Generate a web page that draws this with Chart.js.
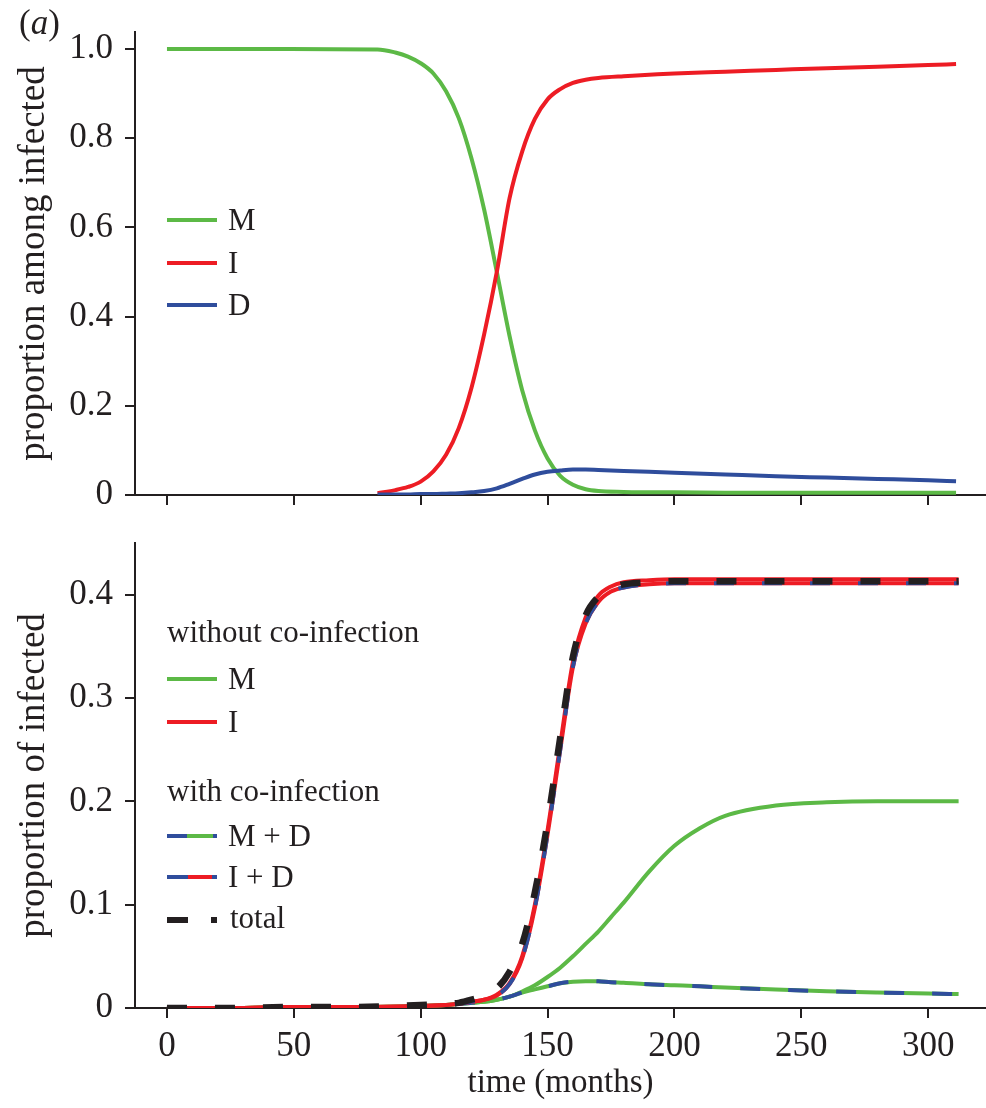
<!DOCTYPE html>
<html>
<head>
<meta charset="utf-8">
<script src="https://cdn.jsdelivr.net/npm/chart.js@4.4.0/dist/chart.umd.min.js"></script>
<style>
  body { margin: 0; background: #fff; }
  #wrap { position: relative; width: 986px; height: 1108px; font-family: "Liberation Serif", "Times New Roman", serif; color: #231f20; }
  .box { position: absolute; left: 0; }
  .lab { position: absolute; font-size: 31px; line-height: 1; white-space: nowrap; }
  .sw { position: absolute; height: 4px; }
</style>
</head>
<body>
<div id="wrap">
  <div class="box" style="top:0"><canvas id="top" width="986" height="530"></canvas></div>
  <div class="box" style="top:530px"><canvas id="bottom" width="986" height="578"></canvas></div>

  <div class="lab" style="left:19px;top:5px;font-size:35px">(<i>a</i>)</div>

  <!-- top legend -->
  <div class="sw" style="left:167px;top:218px;width:50px;background:#5cb946"></div>
  <div class="lab" style="left:228px;top:204px">M</div>
  <div class="sw" style="left:167px;top:261px;width:50px;background:#ed1c24"></div>
  <div class="lab" style="left:228px;top:247px">I</div>
  <div class="sw" style="left:167px;top:303px;width:50px;background:#2f4d9c"></div>
  <div class="lab" style="left:228px;top:289px">D</div>

  <!-- bottom legend -->
  <div class="lab" style="left:167px;top:616px">without co-infection</div>
  <div class="sw" style="left:167px;top:677px;width:50px;background:#5cb946"></div>
  <div class="lab" style="left:228px;top:663px">M</div>
  <div class="sw" style="left:167px;top:720px;width:50px;background:#ed1c24"></div>
  <div class="lab" style="left:228px;top:706px">I</div>
  <div class="lab" style="left:167px;top:775px">with co-infection</div>
  <div class="sw" style="left:167px;top:834px;width:50px;background:linear-gradient(90deg,#2f4d9c 0 40%,#5cb946 40% 92%,#2f4d9c 92%)"></div>
  <div class="lab" style="left:228px;top:820px">M + D</div>
  <div class="sw" style="left:167px;top:875px;width:50px;background:linear-gradient(90deg,#2f4d9c 0 42%,#ed1c24 42% 90%,#2f4d9c 90%)"></div>
  <div class="lab" style="left:228px;top:861px">I + D</div>
  <div class="sw" style="left:167px;top:917px;width:21px;height:6px;background:#231f20"></div>
  <div class="sw" style="left:211px;top:917px;width:6px;height:6px;background:#231f20"></div>
  <div class="lab" style="left:230px;top:902px">total</div>
</div>
<script>
// shared x ticks
var xTicks = [0, 50, 100, 150, 200, 250, 300];

// top panel: proportion among infected
var topMonths = [0, 40, 83, 90, 95, 100, 105, 110, 115, 120, 125, 130, 135, 140, 145, 150, 155, 160, 165, 170, 180, 190, 200, 220, 240, 260, 280, 300, 311];
var propM = [1, 1, 0.999, 0.992, 0.983, 0.968, 0.945, 0.905, 0.845, 0.755, 0.64, 0.5, 0.357, 0.235, 0.145, 0.082, 0.043, 0.023, 0.013, 0.009, 0.007, 0.006, 0.006, 0.005, 0.005, 0.005, 0.005, 0.005, 0.005];
var propI = [null, null, 0.004, 0.011, 0.018, 0.03, 0.053, 0.09, 0.15, 0.24, 0.36, 0.50, 0.665, 0.77, 0.843, 0.887, 0.91, 0.924, 0.931, 0.935, 0.939, 0.942, 0.945, 0.949, 0.953, 0.957, 0.960, 0.964, 0.966];
var propD = [null, null, 0.001, 0.001, 0.001, 0.002, 0.002, 0.003, 0.004, 0.006, 0.009, 0.015, 0.025, 0.036, 0.046, 0.052, 0.055, 0.057, 0.057, 0.056, 0.054, 0.052, 0.050, 0.046, 0.042, 0.039, 0.036, 0.033, 0.031];
var topYTicks = [0, 0.2, 0.4, 0.6, 0.8, 1.0];

// bottom panel: proportion of infected
var months = [0, 25, 50, 75, 100, 110, 115, 120, 125, 130, 135, 140, 145, 150, 155, 160, 165, 170, 175, 180, 190, 200, 210, 220, 240, 260, 280, 300, 312];
var mWithout = [0, 0, 0.001, 0.001, 0.002, 0.003, 0.004, 0.005, 0.006, 0.008, 0.011, 0.016, 0.022, 0.030, 0.039, 0.050, 0.062, 0.074, 0.088, 0.102, 0.132, 0.157, 0.174, 0.186, 0.196, 0.199, 0.200, 0.200, 0.200];
var iWithout = [0, 0, 0.001, 0.001, 0.002, 0.003, 0.004, 0.006, 0.008, 0.013, 0.024, 0.05, 0.10, 0.172, 0.255, 0.335, 0.378, 0.399, 0.408, 0.412, 0.414, 0.415, 0.415, 0.415, 0.415, 0.415, 0.415, 0.415, 0.415];
var mdWith = [0, 0, 0.001, 0.001, 0.002, 0.003, 0.004, 0.005, 0.006, 0.008, 0.011, 0.015, 0.018, 0.021, 0.024, 0.0255, 0.026, 0.0258, 0.025, 0.0245, 0.023, 0.022, 0.021, 0.0198, 0.0178, 0.0162, 0.015, 0.014, 0.0135];
var idWith = [0, 0, 0.001, 0.001, 0.002, 0.003, 0.004, 0.006, 0.008, 0.012, 0.023, 0.048, 0.097, 0.168, 0.25, 0.33, 0.372, 0.393, 0.403, 0.407, 0.410, 0.411, 0.411, 0.411, 0.411, 0.411, 0.411, 0.411, 0.411];
var total = [0, 0, 0.001, 0.001, 0.003, 0.004, 0.005, 0.008, 0.012, 0.019, 0.035, 0.062, 0.112, 0.18, 0.262, 0.34, 0.38, 0.398, 0.406, 0.41, 0.412, 0.413, 0.413, 0.413, 0.413, 0.413, 0.413, 0.413, 0.413];
var bottomYTicks = [0, 0.1, 0.2, 0.3, 0.4];

var ink = '#231f20';
var green = '#5cb946', red = '#ed1c24', blue = '#2f4d9c';
var serif = 'Liberation Serif';

function pts(xs, ys) {
  return xs.map(function(x, i) { return { x: x, y: ys[i] }; });
}

function line(xs, ys, color, width, dash, order) {
  return {
    data: pts(xs, ys),
    borderColor: color,
    borderWidth: width,
    borderDash: dash || [],
    borderCapStyle: 'butt',
    cubicInterpolationMode: 'monotone',
    pointRadius: 0,
    fill: false,
    order: order
  };
}

function fmt(v) {
  return v === 0 ? '0' : v.toFixed(1);
}

function xScale(height, withLabels) {
  return {
    type: 'linear',
    min: -12.6,
    max: 322.8,
    afterBuildTicks: function(s) { s.ticks = xTicks.map(function(v) { return { value: v }; }); },
    afterFit: function(s) { s.height = height; s.paddingLeft = 0; s.paddingRight = 0; },
    ticks: { display: withLabels, color: ink, padding: 8, font: { family: serif, size: 35 } },
    grid: { drawOnChartArea: false, color: ink, lineWidth: 2, tickLength: 10 },
    border: { color: ink, width: 2 },
    title: {
      display: withLabels,
      text: 'time (months)',
      color: ink,
      font: { family: serif, size: 33 },
      padding: { top: 0, bottom: 5 }
    }
  };
}

function yScale(max, tickList, label) {
  return {
    min: 0,
    max: max,
    afterBuildTicks: function(s) { s.ticks = tickList.map(function(v) { return { value: v }; }); },
    afterFit: function(s) { s.width = 135; s.paddingTop = 0; s.paddingBottom = 0; },
    ticks: { color: ink, padding: 12, font: { family: serif, size: 35 }, callback: fmt },
    grid: { drawOnChartArea: false, color: ink, lineWidth: 2, tickLength: 10 },
    border: { color: ink, width: 2 },
    title: {
      display: true,
      text: label,
      color: ink,
      font: { family: serif, size: 37 },
      padding: { top: 12, bottom: 0 }
    }
  };
}

new Chart(document.getElementById('top'), {
  type: 'line',
  data: {
    datasets: [
      line(topMonths, propM, green, 4, null, 3),
      line(topMonths, propI, red, 4, null, 2),
      line(topMonths, propD, blue, 4, null, 1)
    ]
  },
  options: {
    responsive: false,
    animation: false,
    layout: { padding: { top: 32, right: 0, left: 0, bottom: 0 } },
    plugins: { legend: { display: false }, tooltip: { enabled: false } },
    scales: {
      x: xScale(35, false),
      y: yScale(1.038, topYTicks, 'proportion among infected')
    }
  }
});

new Chart(document.getElementById('bottom'), {
  type: 'line',
  data: {
    datasets: [
      line(months, mWithout, green, 4, null, 7),
      line(months, mdWith, green, 4, null, 6),
      line(months, mdWith, blue, 4, [20, 28], 5),
      line(months, iWithout, red, 4, null, 4),
      line(months, idWith, red, 4, null, 3),
      line(months, idWith, blue, 4, [20, 28], 2),
      line(months, total, ink, 6.5, [20, 28], 1)
    ]
  },
  options: {
    responsive: false,
    animation: false,
    layout: { padding: { top: 13, right: 0, left: 0, bottom: 0 } },
    plugins: { legend: { display: false }, tooltip: { enabled: false } },
    scales: {
      x: xScale(100, true),
      y: yScale(0.45, bottomYTicks, 'proportion of infected')
    }
  }
});
</script>
</body>
</html>
